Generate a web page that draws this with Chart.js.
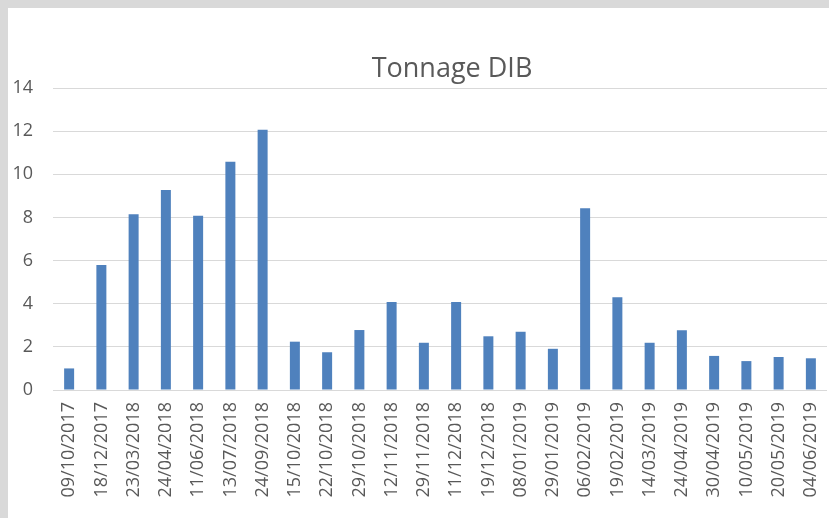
<!DOCTYPE html>
<html>
<head>
<meta charset="utf-8">
<script src="https://cdn.jsdelivr.net/npm/chart.js@4"></script>
<style>
	html, body { margin: 0; padding: 0; overflow: hidden; background: #d9d9d9; width: 829px; height: 518px; }
	#wrap { position: absolute; left: 8px; top: 8px; width: 888px; height: 510px; background: #ffffff; }
</style>
</head>
<body>
<div id="wrap"><canvas id="tonnageChart" width="888" height="510"></canvas></div>
<script>
const dates = [
	"09/10/2017", "18/12/2017", "23/03/2018", "24/04/2018", "11/06/2018", "13/07/2018",
	"24/09/2018", "15/10/2018", "22/10/2018", "29/10/2018", "12/11/2018", "29/11/2018",
	"11/12/2018", "19/12/2018", "08/01/2019", "29/01/2019", "06/02/2019", "19/02/2019",
	"14/03/2019", "24/04/2019", "30/04/2019", "10/05/2019", "20/05/2019", "04/06/2019",
];
const tonnages = [
	1.0, 5.8, 8.15, 9.27, 8.08, 10.58,
	12.07, 2.24, 1.75, 2.78, 4.08, 2.19,
	4.08, 2.49, 2.7, 1.91, 8.42, 4.3,
	2.19, 2.77, 1.58, 1.34, 1.53, 1.47,
];
const yTicks = [0, 2, 4, 6, 8, 10, 12, 14];

const textColor = "#595959";
const gridColor = "#d9d9d9";

const setBarChartData = () => {
	return {
		labels: dates,
		datasets: [
			{
				label: "Tonnage DIB",
				data: tonnages,
				backgroundColor: "#4f81bd",
				borderWidth: 0,
				barPercentage: 0.31,
				categoryPercentage: 1,
			},
		],
	};
};

const setBarChartConfig = (data) => {
	return {
		type: "bar",
		data: data,
		options: {
			responsive: false,
			animation: false,
			layout: {
				padding: 0,
			},
			scales: {
				x: {
					grid: { display: false, drawTicks: false },
					border: { display: false },
					ticks: {
						color: textColor,
						font: { family: "Open Sans", size: 18 },
						minRotation: 90,
						maxRotation: 90,
						autoSkip: false,
						padding: 12,
					},
					afterFit: (scale) => {
						scale.height = 128;
					},
				},
				y: {
					min: 0,
					max: 14,
					afterBuildTicks: (scale) => {
						scale.ticks = yTicks.map((v) => ({ value: v }));
					},
					grid: { color: gridColor, lineWidth: 1, drawTicks: false },
					border: { display: false },
					ticks: {
						color: textColor,
						font: { family: "Open Sans", size: 18 },
						padding: 20,
					},
					afterFit: (scale) => {
						scale.width = 45;
					},
				},
				// empty right axis: keeps the plot narrower than the title box
				yRight: {
					position: "right",
					min: 0,
					max: 14,
					grid: { display: false, drawTicks: false },
					border: { display: false },
					ticks: { display: false },
					afterFit: (scale) => {
						scale.width = 69;
					},
				},
			},
			plugins: {
				legend: { display: false },
				tooltip: { enabled: false },
				title: {
					display: true,
					text: "Tonnage DIB",
					color: textColor,
					font: { family: "Open Sans", size: 27, weight: "normal", lineHeight: 1.2 },
					padding: { top: 45, bottom: 2.6 },
				},
			},
		},
	};
};

const barChart = new Chart(document.getElementById("tonnageChart"), setBarChartConfig(setBarChartData()));
</script>
</body>
</html>
